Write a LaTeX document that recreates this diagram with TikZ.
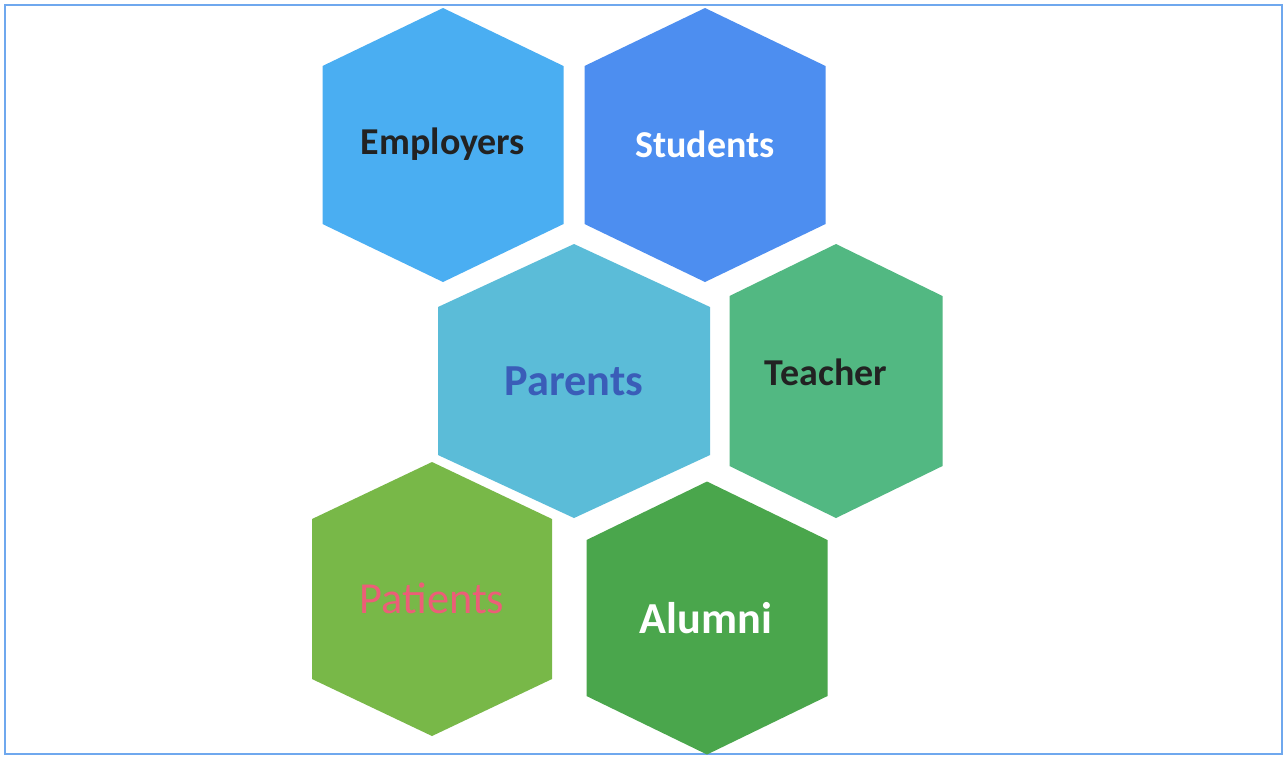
\documentclass[tikz,border=0pt]{standalone}
\usepackage{fontspec}
\setmainfont{Carlito}
\definecolor{framecol}{HTML}{6FA8EE}
\definecolor{empcol}{HTML}{4AAEF2}
\definecolor{stucol}{HTML}{4D8EF0}
\definecolor{parcol}{HTML}{5BBCD8}
\definecolor{teacol}{HTML}{52B882}
\definecolor{patcol}{HTML}{78B848}
\definecolor{alucol}{HTML}{4AA64C}
\definecolor{partext}{HTML}{3A5DB8}
\definecolor{pattext}{HTML}{EC5E78}
\definecolor{darktext}{HTML}{222222}
\tikzset{
  hexcell/.style={draw=none},
  celltext/.style={inner sep=0pt, anchor=center}
}

\begin{document}
\begin{tikzpicture}[x=0.01cm,y=-0.01cm]
    \useasboundingbox (0,0) rectangle (1286,757);
    \fill[white] (0,0) rectangle (1286,757);
    \draw[framecol,line width=0.6pt] (5,5) rectangle (1282,754);
    % cells: centre, width, height, side, fill, label position, size, weight, label colour, label
    \foreach \name/\cx/\cy/\w/\h/\s/\col/\tx/\ty/\fs/\wt/\tcol/\txt in {
        emp/443/145/241/274/79/empcol/443/144/10.8/\bfseries/darktext/Employers,
        stu/705/145/241/274/79/stucol/705/144/10.8/\bfseries/white/Students,
        par/574/381/272/274/74/parcol/574/381/12.6/\bfseries/partext/Parents,
        tea/836/381/213/274/85/teacol/826/372/10.8/\bfseries/darktext/Teacher,
        pat/432/599/240/274/80/patcol/432/598/12.6/\mdseries/pattext/Patients,
        alu/707/618/241/273/78/alucol/706/618/12.6/\bfseries/white/Alumni} {
        \fill[hexcell,fill=\col] (\cx,{\cy-\h/2}) -- ({\cx+\w/2},{\cy-\s})
            -- ({\cx+\w/2},{\cy+\s}) -- (\cx,{\cy+\h/2})
            -- ({\cx-\w/2},{\cy+\s}) -- ({\cx-\w/2},{\cy-\s}) -- cycle;
        \node[celltext,text=\tcol,font=\fontsize{\fs}{\fs}\selectfont\wt] (\name) at (\tx,\ty) {\txt};
      }
  \end{tikzpicture}
\end{document}
